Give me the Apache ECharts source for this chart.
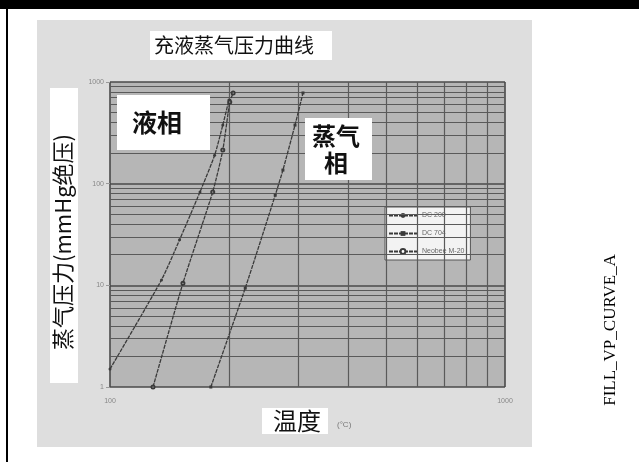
<!DOCTYPE html>
<html>
<head>
<meta charset="utf-8">
<style>
  html, body { margin: 0; padding: 0; background: #fff; }
  #chart { width: 639px; height: 462px; }
</style>
<script src="https://cdn.jsdelivr.net/npm/echarts@6/dist/echarts.min.js"></script>
</head>
<body>
<div id="chart"></div>
<script>
// temperature (x) and vapour pressure (y)
const seriesNames = ['DC 200', 'DC 704', 'Neobee M-20']
const tempA = [100, 135, 150, 169, 184, 193, 200]
const presA = [1.5, 11.3, 28, 83, 190, 377, 664]
const tempB = [128.5, 153, 182, 193, 201, 205]
const presB = [1, 10.5, 83, 214, 635, 780]
const tempC = [180, 220, 262, 274, 294, 308]
const presC = [1, 9.4, 77, 136, 377, 780]

// minor grid values of the log axes
const minorY = [2, 3, 4, 5, 6, 7, 8, 9, 20, 30, 40, 50, 60, 70, 80, 90, 200, 300, 400, 500, 600, 700, 800, 900]
const minorX = [200, 300, 400, 500, 600, 700, 800, 900]

const cjk = '"Noto Sans CJK SC", sans-serif'
const lineColor = '#3a3a3a'

function pairs(xs, ys) {
  return xs.map((x, i) => [x, ys[i]])
}

const chart = echarts.init(document.getElementById('chart'))

const gridLines = minorY.map(v => ({ yAxis: v })).concat(minorX.map(v => ({ xAxis: v })))

function makeSeries(name, data, symbol, withGrid) {
  const s = {
    name: name,
    type: 'line',
    data: data,
    smooth: 0.2,
    symbol: symbol,
    symbolSize: 3,
    itemStyle: { color: lineColor },
    lineStyle: { color: lineColor, width: 1.3, type: [4, 1] },
    z: 5
  }
  if (withGrid) {
    s.markLine = {
      silent: true,
      symbol: ['none', 'none'],
      label: { show: false },
      lineStyle: { color: '#5a5a5a', type: 'solid', width: 1.2 },
      animation: false,
      data: gridLines
    }
  }
  return s
}

chart.setOption({
  animation: false,
  backgroundColor: '#fff',
  title: {
    text: '充液蒸气压力曲线',
    left: 150,
    top: 31,
    backgroundColor: '#fff',
    padding: [4, 18, 5, 4],
    textStyle: { fontFamily: cjk, fontSize: 20, fontWeight: 'normal', color: '#111' }
  },
  legend: {
    orient: 'vertical',
    left: 385,
    top: 207,
    itemWidth: 28,
    itemHeight: 6,
    itemGap: 11,
    padding: [5, 6, 5, 3],
    backgroundColor: '#f3f3f3',
    borderColor: '#555',
    borderWidth: 1,
    textStyle: { fontSize: 7, color: '#666', fontFamily: 'Liberation Sans' },
    data: seriesNames
  },
  grid: {
    left: 110,
    right: 134,
    top: 82,
    bottom: 75,
    show: true,
    backgroundColor: '#b6b6b6',
    borderWidth: 0
  },
  xAxis: {
    type: 'log',
    logBase: 10,
    min: 100,
    max: 1000,
    axisLine: { show: false },
    axisTick: { show: false },
    axisLabel: { fontSize: 7, color: '#888', margin: 11, fontFamily: 'Liberation Sans', formatter: v => String(v) },
    splitLine: { show: true, lineStyle: { color: '#4a4a4a', width: 1.6 } }
  },
  yAxis: {
    type: 'log',
    logBase: 10,
    min: 1,
    max: 1000,
    axisLine: { show: false },
    axisTick: { show: true, length: 4, lineStyle: { color: '#999' } },
    axisLabel: { fontSize: 7, color: '#888', margin: 6, fontFamily: 'Liberation Sans', formatter: v => String(v) },
    splitLine: { show: true, lineStyle: { color: '#4a4a4a', width: 1.6 } }
  },
  series: [
    makeSeries(seriesNames[0], pairs(tempA, presA), 'circle', true),
    makeSeries(seriesNames[1], pairs(tempC, presC), 'rect', false),
    makeSeries(seriesNames[2], pairs(tempB, presB), 'emptyCircle', false)
  ],
  graphic: [
    // page frame
    { type: 'rect', z: -10, shape: { x: 0, y: 0, width: 639, height: 9 }, style: { fill: '#000' } },
    { type: 'rect', z: -10, shape: { x: 6, y: 0, width: 2, height: 462 }, style: { fill: '#000' } },
    { type: 'rect', z: -10, shape: { x: 37, y: 20, width: 495, height: 427 }, style: { fill: '#dedede' } },
    // phase labels
    { type: 'rect', z: 20, shape: { x: 117, y: 95, width: 93, height: 55 }, style: { fill: '#fff' } },
    {
      type: 'text', z: 21, x: 157, y: 122,
      style: { text: '液相', font: 'bold 25px ' + cjk, fill: '#111', align: 'center', verticalAlign: 'middle' }
    },
    { type: 'rect', z: 20, shape: { x: 305, y: 118, width: 67, height: 62 }, style: { fill: '#fff' } },
    {
      type: 'text', z: 21, x: 336, y: 149,
      style: { text: '蒸气\n相', font: 'bold 24px ' + cjk, fill: '#111', align: 'center', verticalAlign: 'middle', lineHeight: 27 }
    },
    // axis names
    { type: 'rect', z: 20, shape: { x: 50, y: 88, width: 28, height: 295 }, style: { fill: '#fff' } },
    {
      type: 'text', z: 21, x: 63, y: 242, rotation: Math.PI / 2,
      style: { text: '蒸气压力(mmHg绝压)', font: '22px ' + cjk, fill: '#111', align: 'center', verticalAlign: 'middle' }
    },
    { type: 'rect', z: 20, shape: { x: 262, y: 408, width: 66, height: 26 }, style: { fill: '#fff' } },
    {
      type: 'text', z: 21, x: 297, y: 421,
      style: { text: '温度', font: '24px ' + cjk, fill: '#111', align: 'center', verticalAlign: 'middle' }
    },
    {
      type: 'text', z: 21, x: 337, y: 425,
      style: { text: '(°C)', font: '8px "Liberation Sans"', fill: '#777', align: 'left', verticalAlign: 'middle' }
    },
    // drawing code on the right
    {
      type: 'text', z: 21, x: 611, y: 330, rotation: Math.PI / 2,
      style: { text: 'FILL_VP_CURVE_A', font: '17px "Liberation Serif"', fill: '#000', align: 'center', verticalAlign: 'middle' }
    }
  ]
})
</script>
</body>
</html>
